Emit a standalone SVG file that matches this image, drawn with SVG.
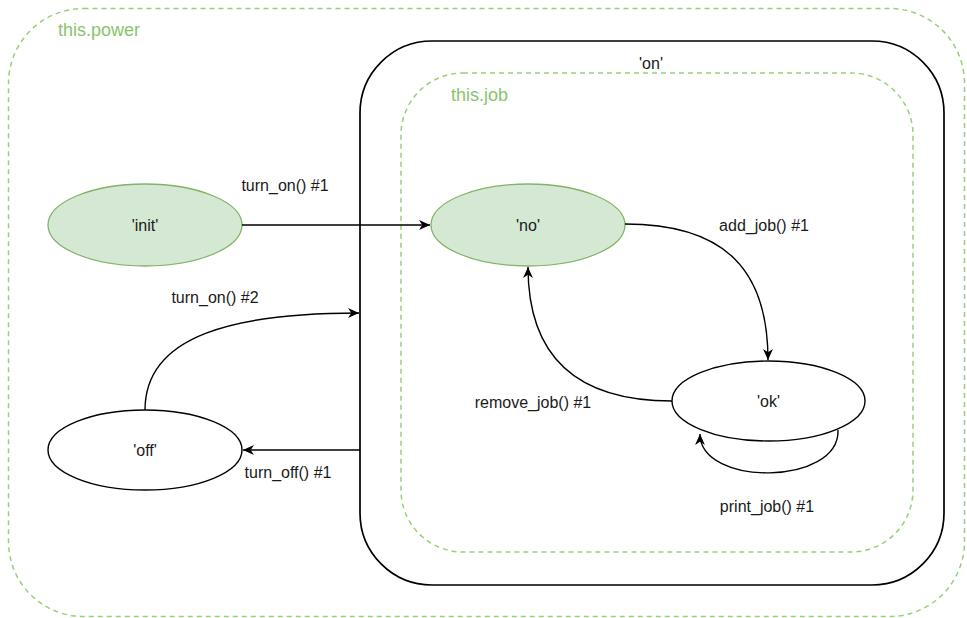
<svg xmlns="http://www.w3.org/2000/svg" width="967" height="618" viewBox="0 0 967 618">
  <style>
    .region { fill: none; stroke: #97d077; stroke-width: 1.5; stroke-dasharray: 5 4; }
    .state-box { fill: #ffffff; stroke: #000000; stroke-width: 1.7; }
    .initial { fill: #d5e8d4; stroke: #82b366; stroke-width: 1.3; }
    .plain { fill: #ffffff; stroke: #000000; stroke-width: 1.4; }
    .region-label { font-family: "Liberation Sans", Arial, sans-serif; font-size: 18px; fill: #88c46c; }
    .label { font-family: "Liberation Sans", Arial, sans-serif; font-size: 16px; fill: #1a1a1a; text-anchor: middle; dominant-baseline: central; }
    .edge { fill: none; stroke: #000000; stroke-width: 1.4; marker-end: url(#arrow); }
  </style>
  <defs>
    <marker id="arrow" viewBox="0 0 10 10" refX="10" refY="5" markerWidth="13" markerHeight="11" orient="auto" markerUnits="userSpaceOnUse">
      <path d="M0,0.5 L10,5 L0,9.5 L3,5 z" fill="#000000"/>
    </marker>
  </defs>

  <rect width="967" height="618" fill="#ffffff"/>

  <!-- outer region: this.power -->
  <g id="power-region">
    <rect class="region" x="8.5" y="8.5" width="956" height="608" rx="75" ry="75"/>
    <text class="region-label" x="58" y="36">this.power</text>
  </g>

  <!-- composite state 'on' -->
  <g id="state-on">
    <rect class="state-box" x="360" y="41" width="584" height="544" rx="72" ry="72"/>
    <text class="label" x="651" y="63">'on'</text>
  </g>

  <!-- nested region: this.job -->
  <g id="job-region">
    <rect class="region" x="401" y="73" width="512" height="479" rx="62" ry="62"/>
    <text class="region-label" x="451" y="101">this.job</text>
  </g>

  <g id="state-init">
    <ellipse class="initial" cx="145" cy="225" rx="97" ry="41"/>
    <text class="label" x="145" y="225">'init'</text>
  </g>

  <g id="state-off">
    <ellipse class="plain" cx="145" cy="450" rx="97" ry="40"/>
    <text class="label" x="145" y="450">'off'</text>
  </g>

  <g id="state-no">
    <ellipse class="initial" cx="528" cy="225" rx="97" ry="41"/>
    <text class="label" x="528" y="225">'no'</text>
  </g>

  <g id="state-ok">
    <ellipse class="plain" cx="768.5" cy="401" rx="96.5" ry="40"/>
    <text class="label" x="768.5" y="401">'ok'</text>
  </g>

  <!-- transitions -->
  <g id="connectors">
    <path class="edge" d="M242,225 L430,225"/>
    <text class="label" x="285" y="185">turn_on() #1</text>

    <path class="edge" d="M145,410 C145,335 235,313 359,313"/>
    <text class="label" x="215" y="297">turn_on() #2</text>

    <path class="edge" d="M360,450 L243,450"/>
    <text class="label" x="288" y="472">turn_off() #1</text>

    <path class="edge" d="M625,224 C725,224 768,270 768,360"/>
    <text class="label" x="764" y="225">add_job() #1</text>

    <path class="edge" d="M672,401 C580,401 528,360 528,267"/>
    <text class="label" x="533" y="402">remove_job() #1</text>

    <path class="edge" d="M838,430 C840,486 700,487 700,434"/>
    <text class="label" x="767" y="506">print_job() #1</text>
  </g>
</svg>
